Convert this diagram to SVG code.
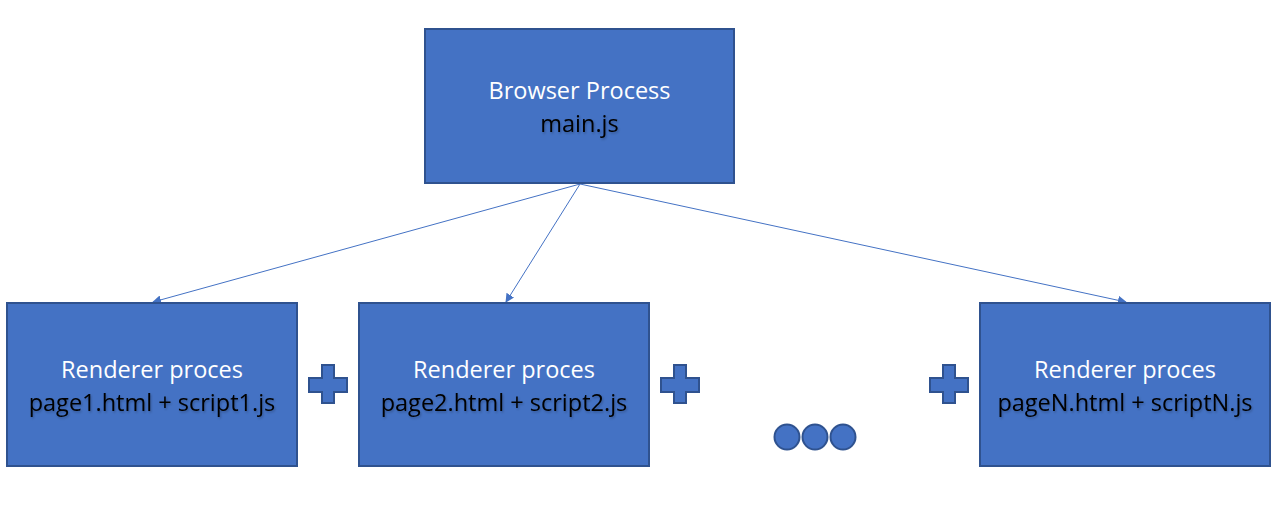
<svg xmlns="http://www.w3.org/2000/svg" width="1281" height="506" viewBox="0 0 1281 506">
<defs>
<style>
.box{fill:#4472C4;stroke:#2F528F;stroke-width:2}
.t1{font-family:"Open Sans","Noto Sans",sans-serif;font-size:23.5px;fill:#FFFFFF;text-anchor:middle}
.t2{font-family:"Open Sans","Noto Sans",sans-serif;font-size:23.5px;fill:#000000;text-anchor:middle;filter:url(#sh)}
.conn{stroke:#4472C4;stroke-width:1;fill:none;marker-end:url(#ah)}
.sym{fill:#4472C4;stroke:#2F528F;stroke-width:2}
</style>
<marker id="ah" viewBox="0 0 10 10" refX="9" refY="5" markerWidth="9" markerHeight="9" orient="auto" markerUnits="userSpaceOnUse">
<path d="M0,0 L10,5 L0,10 z" fill="#4472C4"/>
</marker>
<filter id="sh" x="-10%" y="-30%" width="120%" height="160%">
<feDropShadow dx="1" dy="1.5" stdDeviation="0.8" flood-color="#000" flood-opacity="0.25"/>
</filter>
</defs>
<rect width="1281" height="506" fill="#FFFFFF"/>
<g id="connectors">
<line class="conn" x1="580" y1="184" x2="153" y2="302"/>
<line class="conn" x1="580" y1="184" x2="506" y2="302"/>
<line class="conn" x1="580" y1="184" x2="1126" y2="302"/>
</g>
<g id="browser">
<rect class="box" x="425" y="29" width="309" height="154"/>
<text class="t1" x="579.5" y="99">Browser Process</text>
<text class="t2" x="579.5" y="132">main.js</text>
</g>
<g id="renderer1">
<rect class="box" x="7" y="303" width="290" height="163"/>
<text class="t1" x="152" y="378">Renderer proces</text>
<text class="t2" x="152" y="411">page1.html + script1.js</text>
</g>
<g id="renderer2">
<rect class="box" x="359" y="303" width="290" height="163"/>
<text class="t1" x="504" y="378">Renderer proces</text>
<text class="t2" x="504" y="411">page2.html + script2.js</text>
</g>
<g id="rendererN">
<rect class="box" x="980" y="303" width="290" height="163"/>
<text class="t1" x="1125" y="378">Renderer proces</text>
<text class="t2" x="1125" y="411">pageN.html + scriptN.js</text>
</g>
<g id="plus1">
<path class="sym" d="M322,365 h12 v13 h13 v14 h-13 v11 h-12 v-11 h-13 v-14 h13 z"/>
</g>
<g id="plus2">
<path class="sym" d="M674,365 h12 v13 h13 v14 h-13 v11 h-12 v-11 h-13 v-14 h13 z"/>
</g>
<g id="plus3">
<path class="sym" d="M943,365 h12 v13 h13 v14 h-13 v11 h-12 v-11 h-13 v-14 h13 z"/>
</g>
<g id="ellipsis">
<circle class="sym" cx="787" cy="437" r="12.5"/>
<circle class="sym" cx="815" cy="437" r="12.5"/>
<circle class="sym" cx="843" cy="437" r="12.5"/>
</g>
</svg>
